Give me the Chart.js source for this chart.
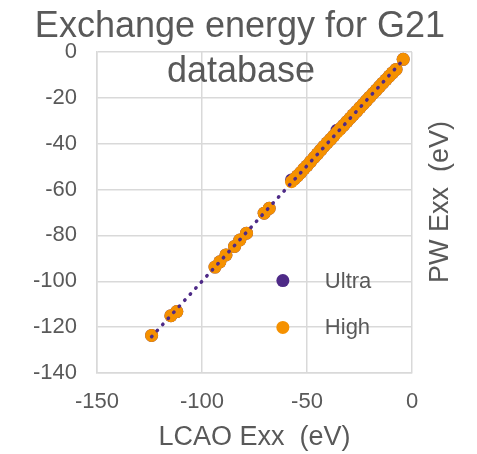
<!DOCTYPE html>
<html>
<head>
<meta charset="utf-8">
<script src="https://cdn.jsdelivr.net/npm/chart.js@4"></script>
<style>
  html, body { margin: 0; padding: 0; background: #ffffff; }
  #wrap { width: 477px; height: 454px; position: relative; }
</style>
</head>
<body>
<div id="wrap"><canvas id="exx-chart"></canvas></div>
<script>
// LCAO vs PW exchange energies (eV)
const lcaoHigh = [-124, -114.8, -112, -93.8, -91.5, -88.6, -84.5, -82, -78.8, -70.4, -68,
  -57.4, -56, -54.5, -53, -51.5, -50, -48.3, -46.6, -45, -43.5, -42, -40.4, -38.8, -37.3,
  -35.7, -34.2, -32.6, -31, -29.5, -28, -26.4, -24.8, -23.3, -21.7, -20.2, -18.6, -17,
  -15.5, -14, -12.4, -10.8, -9.3, -7.6, -4.2];
const pwHigh = [-123.6, -115, -113.2, -93.8, -91.5, -88.5, -84.8, -82, -79, -70.3, -68.2,
  -56.6, -55.4, -54, -52.6, -51, -49.6, -47.8, -46, -44.4, -42.8, -41.2, -39.6, -38.1, -36.6,
  -35, -33.5, -32, -30.4, -28.9, -27.4, -25.9, -24.3, -22.8, -21.2, -19.7, -18.1, -16.6,
  -15.1, -13.6, -12.1, -10.5, -9.1, -7.6, -3.2];
const lcaoUltra = lcaoHigh.slice();
const pwUltra = [-123.6, -115, -113.2, -93.8, -91.5, -88.5, -84.8, -82, -79, -70.3, -68.2,
  -55.8, -55.4, -54, -52.6, -51, -49.6, -47.8, -46, -44.4, -42.8, -41.2, -39.6, -38.1, -36.6,
  -34.1, -33.5, -32, -30.4, -28.9, -27.4, -25.9, -24.3, -22.8, -21.2, -19.7, -18.1, -16.6,
  -15.1, -13.6, -12.1, -10.5, -9.1, -7.6, -3.2];
const xTicks = [-150, -100, -50, 0];
const yTicks = [0, -20, -40, -60, -80, -100, -120, -140];

const seriesNames = ['Ultra', 'High'];
const ultraColor = '#4e2a87';
const highColor = '#f59100';
const textColor = '#595959';
const gridColor = '#d9d9d9';

const toPoints = (xs, ys) => xs.map((x, i) => ({ x: x, y: ys[i] }));

// linear trendline through the Ultra series
function trendline(xs, ys) {
  const n = xs.length;
  const mx = xs.reduce((a, b) => a + b, 0) / n;
  const my = ys.reduce((a, b) => a + b, 0) / n;
  let sxy = 0, sxx = 0;
  xs.forEach((x, i) => { sxy += (x - mx) * (ys[i] - my); sxx += (x - mx) * (x - mx); });
  const slope = sxy / sxx;
  const x0 = Math.min(...xs), x1 = Math.max(...xs);
  return [{ x: x0, y: my + slope * (x0 - mx) }, { x: x1, y: my + slope * (x1 - mx) }];
}

// title, right-hand axis title and the in-plot legend
const overlayText = {
  id: 'overlayText',
  afterDraw(chart) {
    const ctx = chart.ctx;
    const area = chart.chartArea;
    ctx.save();
    ctx.fillStyle = textColor;
    ctx.textAlign = 'center';
    ctx.textBaseline = 'alphabetic';
    ctx.font = "36px 'Liberation Sans', Arial, sans-serif";
    ctx.fillText('Exchange energy for G21', 240, 37);
    ctx.fillText('database', 241, 82);

    ctx.font = "27px 'Liberation Sans', Arial, sans-serif";
    ctx.translate(441, 202);
    ctx.rotate(-Math.PI / 2);
    ctx.textBaseline = 'middle';
    ctx.fillText('PW Exx  (eV)', 0, 0);
    ctx.restore();

    ctx.save();
    const colors = [ultraColor, highColor];
    const lx = area.left + area.width * 0.59;
    const rows = [0.712, 0.858];
    ctx.font = "22px 'Liberation Sans', Arial, sans-serif";
    ctx.textAlign = 'left';
    ctx.textBaseline = 'middle';
    seriesNames.forEach((name, i) => {
      const ly = area.top + area.height * rows[i];
      ctx.beginPath();
      ctx.arc(lx, ly, 6.5, 0, Math.PI * 2);
      ctx.fillStyle = colors[i];
      ctx.fill();
      ctx.fillStyle = textColor;
      ctx.fillText(name, lx + 42, ly + 1);
    });
    ctx.restore();
  }
};

const ctx = document.getElementById('exx-chart').getContext('2d');
new Chart(ctx, {
  type: 'scatter',
  data: {
    datasets: [
      {
        label: 'Ultra trend',
        data: trendline(lcaoUltra, pwUltra),
        showLine: true,
        borderColor: ultraColor,
        borderWidth: 3.5,
        borderDash: [0.5, 7.7],
        borderCapStyle: 'round',
        pointRadius: 0,
        order: 0
      },
      {
        label: seriesNames[1],
        data: toPoints(lcaoHigh, pwHigh),
        backgroundColor: highColor,
        borderColor: highColor,
        pointRadius: 6.5,
        borderWidth: 0,
        order: 1
      },
      {
        label: seriesNames[0],
        data: toPoints(lcaoUltra, pwUltra),
        backgroundColor: ultraColor,
        borderColor: ultraColor,
        pointRadius: 6.5,
        borderWidth: 0,
        order: 2
      }
    ]
  },
  options: {
    responsive: true,
    maintainAspectRatio: false,
    animation: false,
    layout: { padding: { top: 52, right: 65, left: 0, bottom: 0 } },
    plugins: {
      legend: { display: false },
      title: { display: false },
      tooltip: { enabled: false }
    },
    scales: {
      x: {
        type: 'linear',
        min: xTicks[0],
        max: xTicks[xTicks.length - 1],
        afterBuildTicks: (scale) => { scale.ticks = xTicks.map(v => ({ value: v })); },
        afterFit: (scale) => { scale.height = 81; },
        grid: { color: gridColor, lineWidth: 1.5, drawTicks: false },
        border: { color: gridColor, width: 1.5 },
        ticks: {
          color: textColor,
          padding: 16,
          font: { family: "'Liberation Sans', Arial, sans-serif", size: 22 }
        },
        title: {
          display: true,
          text: 'LCAO Exx  (eV)',
          color: textColor,
          padding: 0,
          font: { family: "'Liberation Sans', Arial, sans-serif", size: 27 }
        }
      },
      y: {
        type: 'linear',
        min: yTicks[yTicks.length - 1],
        max: yTicks[0],
        afterBuildTicks: (scale) => { scale.ticks = yTicks.slice().reverse().map(v => ({ value: v })); },
        afterFit: (scale) => { scale.width = 97; },
        grid: { color: gridColor, lineWidth: 1.5, drawTicks: false },
        border: { color: gridColor, width: 1.5 },
        ticks: {
          color: textColor,
          padding: 20,
          font: { family: "'Liberation Sans', Arial, sans-serif", size: 22 }
        }
      }
    }
  },
  plugins: [overlayText]
});
</script>
</body>
</html>
